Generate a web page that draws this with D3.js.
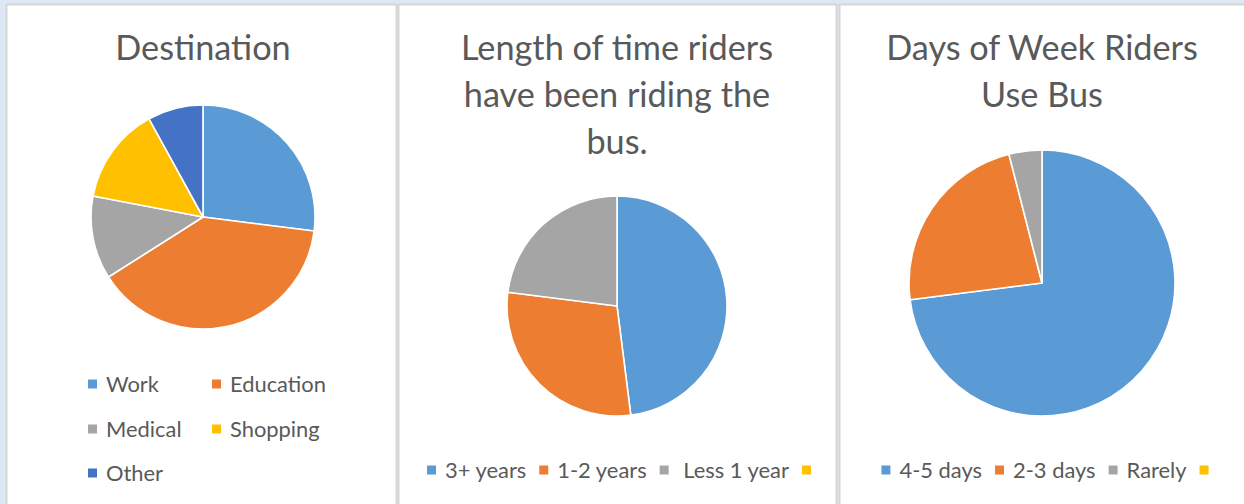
<!DOCTYPE html>
<html>
<head>
<meta charset="utf-8">
<script src="https://cdn.jsdelivr.net/npm/d3@7"></script>
<style>
  html, body { margin: 0; padding: 0; background: #dee8f4; }
  svg { display: block; }
  text { font-family: Lato, "Open Sans", sans-serif; fill: #595959; }
</style>
</head>
<body>
<svg id="chart" width="1244" height="504"></svg>
<script>
// ---- data ----
const destCategories = ["Work", "Education", "Medical", "Shopping", "Other"];
const destValues = [27, 39, 12, 14, 8];

const lengthCategories = ["3+ years", "1-2 years", " Less 1 year", ""];
const lengthValues = [48, 29, 23, 0];

const daysCategories = ["4-5 days", "2-3 days", "Rarely", ""];
const daysValues = [73, 23, 4, 0];

const titles = [
  ["Destination"],
  ["Length of time riders", "have been riding the", "bus."],
  ["Days of Week Riders", "Use Bus"]
];

const palette = ["#5b9bd5", "#ed7d31", "#a5a5a5", "#ffc000", "#4472c4"];

// ---- drawing ----
const svg = d3.select("#chart");

// panels
const panels = [
  {x: 6, w: 390, cx: 203, cy: 217, r: 112},
  {x: 398, w: 438, cx: 617, cy: 306, r: 110},
  {x: 839, w: 420, cx: 1042, cy: 283, r: 133}
];
panels.forEach(p => {
  svg.append("rect")
    .attr("x", p.x + 0.5).attr("y", 4.5)
    .attr("width", p.w).attr("height", 520)
    .attr("fill", "#ffffff")
    .attr("stroke", "#d6d6d6").attr("stroke-width", 2);
});

// calibrate font sizes to Calibri-like widths
function fitSize(str, targetW, family) {
  const t = svg.append("text").attr("font-size", 100).text(str);
  const w = t.node().getComputedTextLength();
  t.remove();
  return 100 * targetW / w;
}
const titleSize = fitSize("Length of time riders", 312);
const legendSize = fitSize("Education", 96);

// titles
const titleBaseline = 60, titleLineH = 47;
titles.forEach((lines, i) => {
  const g = svg.append("g");
  g.selectAll("text").data(lines).join("text")
    .attr("x", panels[i].cx)
    .attr("y", (d, j) => titleBaseline + j * titleLineH)
    .attr("text-anchor", "middle")
    .attr("font-size", titleSize)
    .text(d => d);
});

// pies
const color = d3.scaleOrdinal().range(palette);
function drawPie(p, cats, vals) {
  const data = cats.map((c, i) => ({cat: c, value: vals[i], idx: i}));
  const pie = d3.pie().sort(null).value(d => d.value);
  const arc = d3.arc().innerRadius(0).outerRadius(p.r);
  svg.append("g")
    .attr("transform", `translate(${p.cx},${p.cy})`)
    .selectAll("path")
    .data(pie(data).filter(d => d.data.value > 0))
    .join("path")
    .attr("d", arc)
    .attr("fill", d => palette[d.data.idx])
    .attr("stroke", "#ffffff")
    .attr("stroke-width", 1.6)
    .attr("stroke-linejoin", "round");
}
drawPie(panels[0], destCategories, destValues);
drawPie(panels[1], lengthCategories, lengthValues);
drawPie(panels[2], daysCategories, daysValues);

// legend 1 : grid of two columns
const sq = 9;
const grid = svg.append("g");
const colX = [88, 212];
const rowY = [384, 429, 473];
destCategories.forEach((c, i) => {
  const x = colX[i % 2], y = rowY[Math.floor(i / 2)];
  grid.append("rect").attr("x", x).attr("y", y - sq / 2)
    .attr("width", sq).attr("height", sq).attr("fill", palette[i]);
  grid.append("text").attr("x", x + sq + 9).attr("y", y)
    .attr("dy", "0.35em").attr("font-size", legendSize)
    .style("white-space", "pre").text(c);
});

// legends 2 & 3 : horizontal, centred
function drawRowLegend(cats, cx, y) {
  const g = svg.append("g");
  let x = 0;
  cats.forEach((c, i) => {
    g.append("rect").attr("x", x).attr("y", y - sq / 2)
      .attr("width", sq).attr("height", sq).attr("fill", palette[i]);
    x += sq + 9;
    const t = g.append("text").attr("x", x).attr("y", y)
      .attr("dy", "0.35em").attr("font-size", legendSize)
      .style("white-space", "pre").text(c);
    const w = c ? t.node().getComputedTextLength() : 0;
    x += w + 13;
  });
  const total = x - 13 - 9;
  g.attr("transform", `translate(${cx - total / 2},0)`);
}
drawRowLegend(lengthCategories, 619, 470);
drawRowLegend(daysCategories, 1045, 470);
</script>
</body>
</html>
